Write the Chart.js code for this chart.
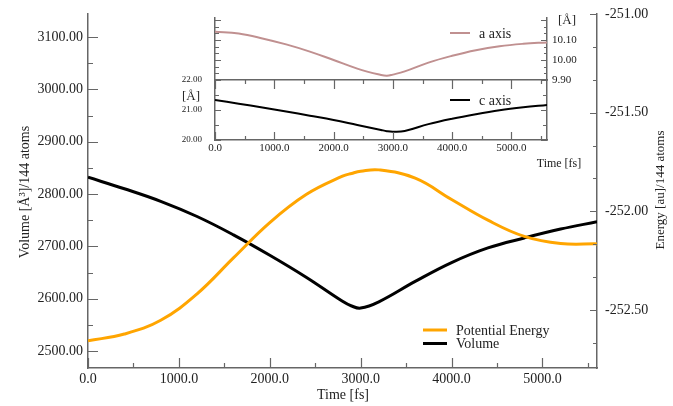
<!DOCTYPE html>
<html>
<head>
<meta charset="utf-8">
<script src="https://cdn.jsdelivr.net/npm/chart.js@4.4.1/dist/chart.umd.min.js"></script>
<style>
  body { margin: 0; background: #fff; }
  #wrap { position: relative; width: 673px; height: 406px; }
  #wrap canvas { position: absolute; left: 0; top: 0; }
</style>
</head>
<body>
<div id="wrap">
  <canvas id="mainChart" width="673" height="406"></canvas>
  <canvas id="insetA" width="673" height="406"></canvas>
  <canvas id="insetC" width="673" height="406"></canvas>
</div>
<script>
// simulation time [fs]
const timeFs = [0, 400, 800, 1200, 1600, 2000, 2400, 2800, 2900, 3000, 3200, 3600, 4000, 4400, 4800, 5200, 5600];
// volume [A^3]/144 atoms
const volume = [2832, 2810, 2786, 2757, 2722, 2683, 2641, 2595, 2586, 2582, 2594, 2633, 2669, 2697, 2716, 2733, 2747];
// potential energy [au]/144 atoms
const potentialEnergy = [-252.656, -252.622, -252.552, -252.418, -252.236, -252.057, -251.915, -251.822, -251.808, -251.797, -251.79, -251.832, -251.94, -252.045, -252.127, -252.163, -252.165];
// lattice parameters [A]
const aAxis = [10.1415, 10.132, 10.108, 10.078, 10.042, 10.0, 9.957, 9.925, 9.921, 9.927, 9.943, 9.987, 10.021, 10.049, 10.069, 10.081, 10.088];
const cAxis = [21.333, 21.21, 21.085, 20.95, 20.81, 20.667, 20.5, 20.335, 20.295, 20.277, 20.3, 20.53, 20.71, 20.86, 20.99, 21.09, 21.17];

const timeTicks = [0, 1000, 2000, 3000, 4000, 5000];
const volumeTicks = [2500, 2600, 2700, 2800, 2900, 3000, 3100];
const energyTicks = [-252.5, -252.0, -251.5, -251.0];
const aTicks = [9.9, 10.0, 10.1];
const cTicks = [20, 21, 22];

const AXIS = "#666";
const TEXT = "#222";
const FONT = "'Liberation Serif', 'DejaVu Serif', serif";

Chart.defaults.font.family = FONT;
Chart.defaults.color = TEXT;

const pts = (vals) => timeFs.map((t, i) => ({ x: t, y: vals[i] }));
const fixTicks = (vals) => (scale) => { scale.ticks = vals.map((v) => ({ value: v })); };
const fitW = (w) => (s) => { s.width = w; s.paddingTop = 0; s.paddingBottom = 0; };
const fitH = (h) => (s) => { s.height = h; s.paddingLeft = 0; s.paddingRight = 0; };

// xmgrace style tick marks pointing into the plot
function inwardTicks(specs) {
  return {
    id: "inwardTicks",
    afterDraw(chart) {
      const ctx = chart.ctx;
      const a = chart.chartArea;
      ctx.save();
      ctx.strokeStyle = AXIS;
      ctx.lineWidth = 1.2;
      ctx.beginPath();
      specs.forEach((sp) => {
        const sc = chart.scales[sp.scale];
        const lo = Math.ceil(sc.min / sp.step - 1e-6);
        const hi = Math.floor(sc.max / sp.step + 1e-6);
        for (let i = lo; i <= hi; i++) {
          const p = Math.round(sc.getPixelForValue(i * sp.step)) + 0.5;
          if (sp.edge === "left") { ctx.moveTo(a.left, p); ctx.lineTo(a.left + sp.len, p); }
          if (sp.edge === "right") { ctx.moveTo(a.right, p); ctx.lineTo(a.right - sp.len, p); }
          if (sp.edge === "bottom") { ctx.moveTo(p, a.bottom); ctx.lineTo(p, a.bottom - sp.len); }
          if (sp.edge === "top") { ctx.moveTo(p, a.top); ctx.lineTo(p, a.top + sp.len); }
        }
      });
      ctx.stroke();
      ctx.restore();
    },
  };
}

function textLayer(items) {
  return {
    id: "textLayer",
    afterDraw(chart) {
      const ctx = chart.ctx;
      items.forEach((it) => {
        ctx.save();
        ctx.font = it.font + " " + FONT;
        ctx.fillStyle = TEXT;
        ctx.textAlign = it.align || "center";
        ctx.textBaseline = "middle";
        ctx.translate(it.x, it.y);
        if (it.rot) ctx.rotate(it.rot);
        ctx.fillText(it.text, 0, 0);
        ctx.restore();
      });
    },
  };
}

// legend: short line sample + label, one row per dataset
function lineLegend(x, y, rowGap, lineLen, font) {
  return {
    id: "lineLegend",
    afterDraw(chart) {
      const ctx = chart.ctx;
      ctx.save();
      chart.data.datasets.forEach((ds, i) => {
        const yy = y + i * rowGap;
        ctx.strokeStyle = ds.borderColor;
        ctx.lineWidth = ds.borderWidth;
        ctx.beginPath();
        ctx.moveTo(x, yy);
        ctx.lineTo(x + lineLen, yy);
        ctx.stroke();
        ctx.font = font + " " + FONT;
        ctx.fillStyle = TEXT;
        ctx.textAlign = "left";
        ctx.textBaseline = "middle";
        ctx.fillText(ds.label, x + lineLen + 9, yy + 1);
      });
      ctx.restore();
    },
  };
}

const border = { display: true, color: AXIS, width: 1.5 };
const noGrid = { display: false, drawTicks: false };

// ---------- main chart ----------
new Chart(document.getElementById("mainChart"), {
  type: "line",
  data: {
    datasets: [
      {
        label: "Potential Energy",
        data: pts(potentialEnergy),
        yAxisID: "y2",
        borderColor: "#ffa500",
        borderWidth: 3,
        pointRadius: 0,
        tension: 0.4,
      },
      {
        label: "Volume",
        data: pts(volume),
        yAxisID: "y",
        borderColor: "#000",
        borderWidth: 3,
        pointRadius: 0,
        tension: 0.4,
      },
    ],
  },
  options: {
    responsive: false,
    animation: false,
    devicePixelRatio: 1,
    layout: { padding: { left: 0, right: 0, top: 14, bottom: 0 } },
    plugins: { legend: { display: false }, tooltip: { enabled: false } },
    scales: {
      x: {
        type: "linear",
        min: 0,
        max: 5600,
        grid: noGrid,
        border: border,
        afterBuildTicks: fixTicks(timeTicks),
        afterFit: fitH(38),
        ticks: {
          font: { size: 14 },
          padding: 3,
          maxRotation: 0,
          autoSkip: false,
          callback: (v) => v.toFixed(1),
        },
      },
      y: {
        position: "left",
        min: 2467.5,
        max: 3144,
        grid: noGrid,
        border: border,
        afterBuildTicks: fixTicks(volumeTicks),
        afterFit: fitW(88),
        ticks: { font: { size: 14 }, padding: 5, callback: (v) => v.toFixed(2) },
      },
      y2: {
        position: "right",
        min: -252.794,
        max: -251.0,
        grid: noGrid,
        border: border,
        afterBuildTicks: fixTicks(energyTicks),
        afterFit: fitW(76),
        ticks: { font: { size: 14 }, padding: 8, callback: (v) => v.toFixed(2) },
      },
    },
  },
  plugins: [
    inwardTicks([
      { scale: "x", edge: "bottom", step: 1000, len: 10 },
      { scale: "x", edge: "bottom", step: 500, len: 5 },
      { scale: "y", edge: "left", step: 100, len: 10 },
      { scale: "y", edge: "left", step: 50, len: 5 },
      { scale: "y2", edge: "right", step: 0.5, len: 7 },
      { scale: "y2", edge: "right", step: 0.5 / 3, len: 4 },
    ]),
    textLayer([
      { text: "Volume [Å³]/144 atoms", x: 25, y: 192, rot: -Math.PI / 2, font: "14px" },
      { text: "Energy [au]/144 atoms", x: 661, y: 190, rot: -Math.PI / 2, font: "13px" },
      { text: "Time [fs]", x: 343, y: 395, font: "14px" },
    ]),
    lineLegend(423, 330, 13.5, 24, "14px"),
  ],
});

// ---------- inset: a axis (upper panel) ----------
new Chart(document.getElementById("insetA"), {
  type: "line",
  data: {
    datasets: [
      {
        label: "a axis",
        data: pts(aAxis),
        yAxisID: "ya",
        borderColor: "#c09090",
        borderWidth: 2,
        pointRadius: 0,
        tension: 0.4,
      },
    ],
  },
  options: {
    responsive: false,
    animation: false,
    devicePixelRatio: 1,
    layout: { padding: { left: 0, right: 0, top: 18, bottom: 322 } },
    plugins: { legend: { display: false }, tooltip: { enabled: false } },
    scales: {
      x: {
        type: "linear",
        min: 0,
        max: 5600,
        grid: noGrid,
        border: border,
        ticks: { display: false },
        afterFit: fitH(4),
      },
      yl: {
        position: "left",
        min: 9.9,
        max: 10.21,
        grid: noGrid,
        border: border,
        ticks: { display: false },
        afterFit: fitW(215),
      },
      ya: {
        position: "right",
        min: 9.9,
        max: 10.21,
        grid: noGrid,
        border: border,
        afterBuildTicks: fixTicks(aTicks),
        afterFit: fitW(126),
        ticks: { font: { size: 11 }, padding: 5, callback: (v) => v.toFixed(2) },
      },
    },
  },
  plugins: [
    inwardTicks([
      { scale: "ya", edge: "right", step: 0.1, len: 6 },
      { scale: "ya", edge: "right", step: 0.1 / 3, len: 3 },
      { scale: "yl", edge: "left", step: 0.1, len: 6 },
      { scale: "yl", edge: "left", step: 0.1 / 3, len: 4 },
    ]),
    textLayer([{ text: "[Å]", x: 567, y: 21, font: "13px" }]),
    lineLegend(450, 33, 0, 20, "14px"),
  ],
});

// ---------- inset: c axis (lower panel) ----------
new Chart(document.getElementById("insetC"), {
  type: "line",
  data: {
    datasets: [
      {
        label: "c axis",
        data: pts(cAxis),
        yAxisID: "yc",
        borderColor: "#000",
        borderWidth: 2,
        pointRadius: 0,
        tension: 0.4,
      },
    ],
  },
  options: {
    responsive: false,
    animation: false,
    devicePixelRatio: 1,
    layout: { padding: { left: 0, right: 0, top: 80, bottom: 254 } },
    plugins: { legend: { display: false }, tooltip: { enabled: false } },
    scales: {
      x: {
        type: "linear",
        min: 0,
        max: 5600,
        grid: noGrid,
        border: border,
        afterBuildTicks: fixTicks(timeTicks),
        afterFit: fitH(12),
        ticks: {
          font: { size: 11 },
          padding: 2,
          maxRotation: 0,
          autoSkip: false,
          callback: (v) => v.toFixed(1),
        },
      },
      yc: {
        position: "left",
        min: 20,
        max: 22,
        grid: noGrid,
        border: border,
        afterBuildTicks: fixTicks(cTicks),
        afterFit: fitW(215),
        ticks: { font: { size: 9 }, padding: 13, callback: (v) => v.toFixed(2) },
      },
      yr: {
        position: "right",
        min: 20,
        max: 22,
        grid: noGrid,
        border: border,
        ticks: { display: false },
        afterFit: fitW(126),
      },
    },
  },
  plugins: [
    inwardTicks([
      { scale: "x", edge: "top", step: 1000, len: 9 },
      { scale: "x", edge: "top", step: 500, len: 4 },
      { scale: "x", edge: "bottom", step: 1000, len: 8 },
      { scale: "x", edge: "bottom", step: 500, len: 4 },
      { scale: "yc", edge: "left", step: 1, len: 6 },
      { scale: "yc", edge: "left", step: 0.5, len: 4 },
      { scale: "yr", edge: "right", step: 1, len: 6 },
      { scale: "yr", edge: "right", step: 0.5, len: 4 },
    ]),
    textLayer([
      { text: "[Å]", x: 191, y: 97, font: "13px" },
      { text: "Time [fs]", x: 559, y: 164, font: "12px" },
    ]),
    lineLegend(450, 100, 0, 20, "14px"),
  ],
});
</script>
</body>
</html>
